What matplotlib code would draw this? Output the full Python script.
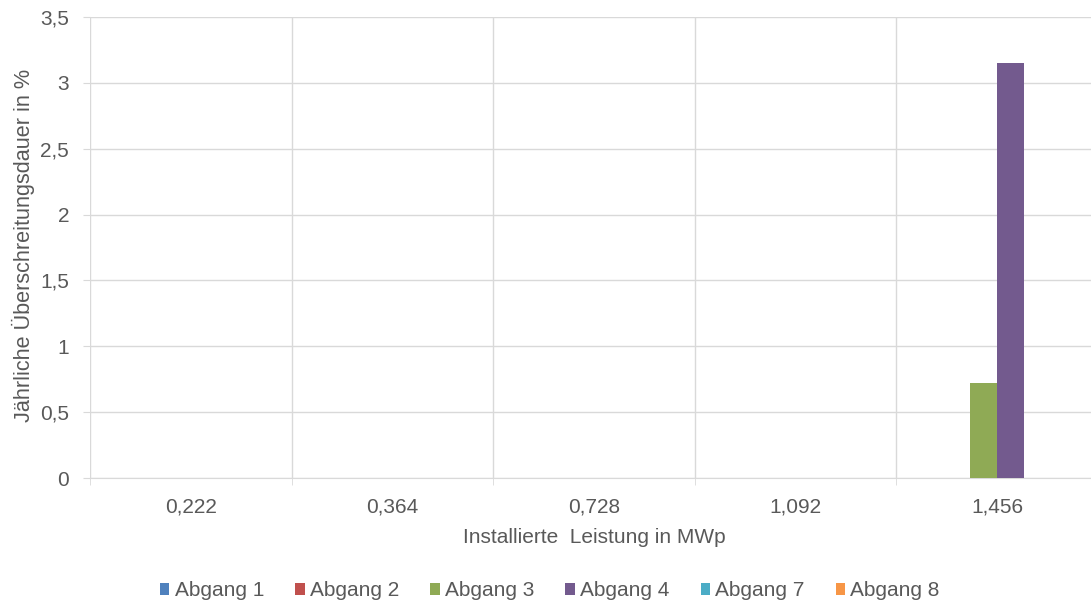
import matplotlib.pyplot as plt
import numpy as np

# data
categories = ['0,222', '0,364', '0,728', '1,092', '1,456']
series_names = ['Abgang 1', 'Abgang 2', 'Abgang 3', 'Abgang 4', 'Abgang 7', 'Abgang 8']
values = {
    'Abgang 1': [0, 0, 0, 0, 0],
    'Abgang 2': [0, 0, 0, 0, 0],
    'Abgang 3': [0, 0, 0, 0, 0.72],
    'Abgang 4': [0, 0, 0, 0, 3.15],
    'Abgang 7': [0, 0, 0, 0, 0],
    'Abgang 8': [0, 0, 0, 0, 0],
}
colors = ['#4F81BD', '#C0504D', '#8FAA55', '#735A8E', '#4BACC6', '#F79646']
y_ticks = [0, 0.5, 1, 1.5, 2, 2.5, 3, 3.5]
y_labels = ['0', '0,5', '1', '1,5', '2', '2,5', '3', '3,5']

plt.rcParams['font.family'] = ['Liberation Sans', 'DejaVu Sans']
text_col = '#595959'
grid_col = '#D9D9D9'

fig = plt.figure(figsize=(10.91, 6.02), dpi=100)
# plot area runs slightly past the right edge, like the reference crop
ax = fig.add_axes([90 / 1091, 1 - 478 / 602, 1008 / 1091, 461 / 602])

x = np.arange(len(categories))
w = 0.134
for i, (name, col) in enumerate(zip(series_names, colors)):
    ax.bar(x + (i - 2.5) * w, values[name], width=w, color=col, label=name, zorder=3)

ax.set_xlim(-0.5, len(categories) - 0.5)
ax.set_ylim(0, 3.5)

ax.set_yticks(y_ticks, y_labels)
ax.set_xticks(x, categories)
ax.set_xticks(np.arange(-0.5, len(categories)), minor=True)

ax.tick_params(axis='y', which='major', length=5, color=grid_col, labelsize=15,
               labelcolor=text_col, pad=10)
ax.tick_params(axis='x', which='major', length=0, labelsize=15, labelcolor=text_col, pad=14)
ax.tick_params(axis='x', which='minor', length=5, color=grid_col)

ax.grid(axis='y', which='major', color=grid_col, linewidth=1, zorder=0)
ax.grid(axis='x', which='minor', color=grid_col, linewidth=1, zorder=0)
for s in ['top', 'right', 'left']:
    ax.spines[s].set_visible(False)
ax.spines['bottom'].set_color(grid_col)

ax.set_xlabel('Installierte  Leistung in MWp', fontsize=15, color=text_col, labelpad=8)
ax.set_ylabel('Jährliche Überschreitungsdauer in %', fontsize=15.6, color=text_col)
ax.yaxis.set_label_coords(-55 / 1008, 0.505)

fig.legend(loc='center', bbox_to_anchor=(0.504, 1 - 591 / 602), ncol=6, frameon=False,
           fontsize=15, handlelength=0.45, handleheight=0.45, handletextpad=0.25,
           columnspacing=1.5, labelcolor=text_col)

fig.savefig('out.png', dpi=100)
